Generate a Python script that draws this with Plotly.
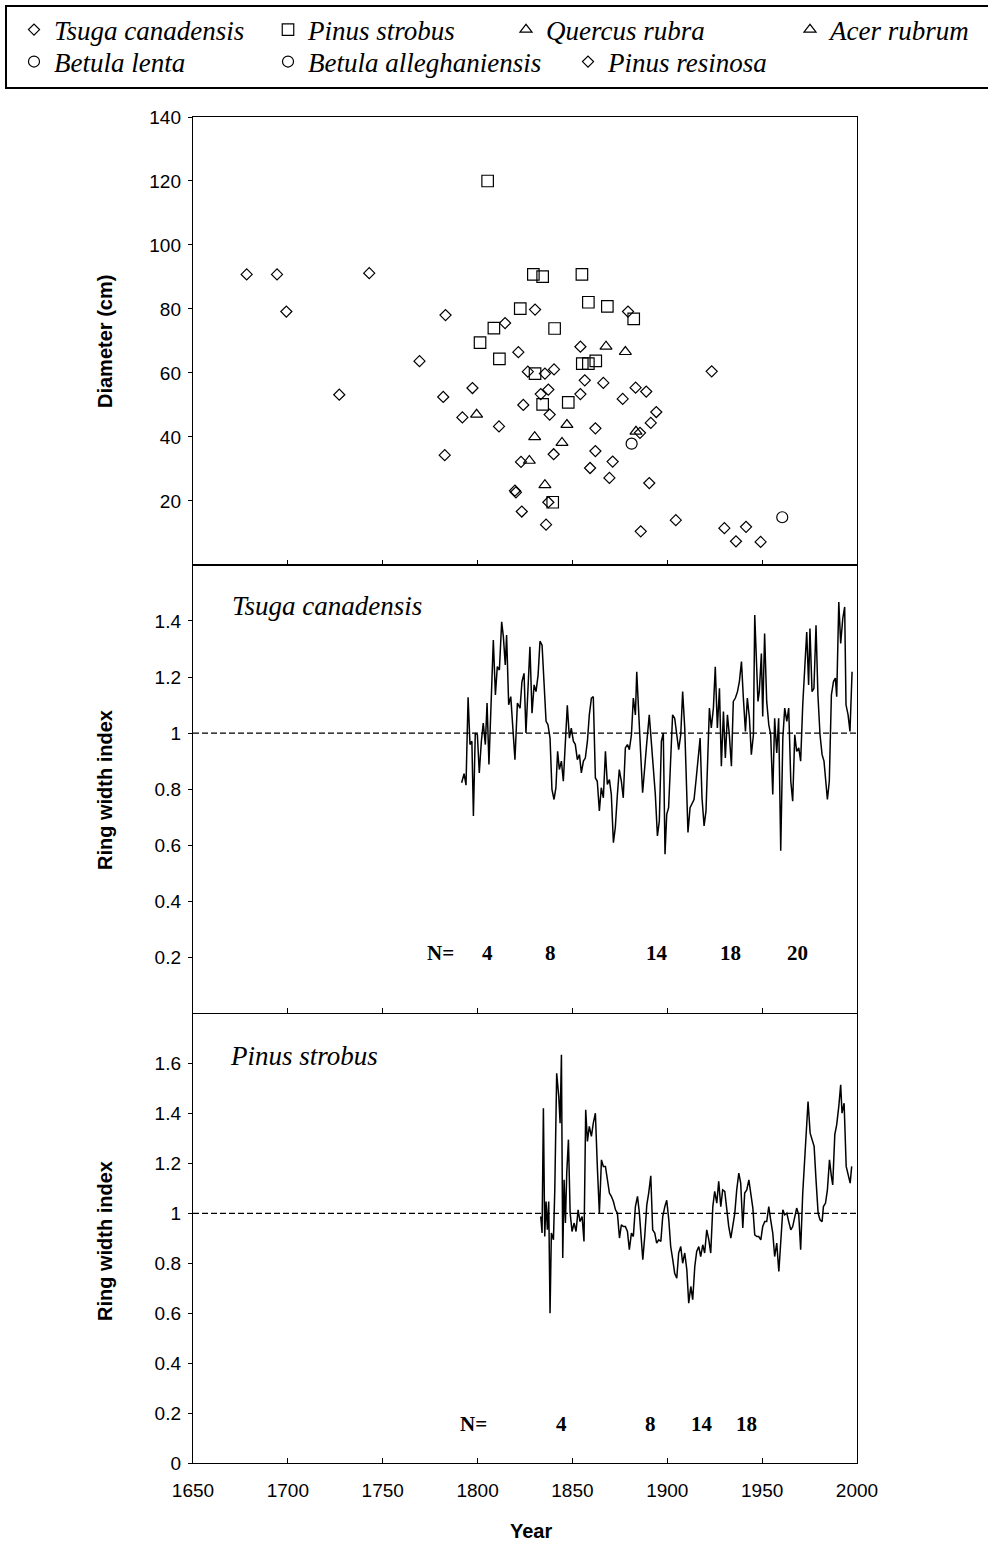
import plotly.graph_objects as go

W, H = 988, 1543

# ---------------------------------------------------------------
# Stem diameter (cm) against establishment year, by species
# ---------------------------------------------------------------
tsuga_year = [1678.3, 1694.3, 1699.2, 1742.9, 1727.1, 1769.4, 1783.1, 1781.9, 1792.0, 1811.3,
              1782.7, 1814.5, 1821.5, 1819.7, 1820.2, 1823.3, 1822.9, 1824.1, 1830.3, 1879.3,
              1854.2, 1826.5, 1835.5, 1840.3, 1856.5, 1866.3, 1883.3, 1888.9, 1876.5, 1854.2,
              1833.3, 1837.3, 1838.0, 1894.2, 1891.3, 1885.6, 1862.1, 1840.1, 1871.2, 1859.3,
              1869.5, 1890.5, 1837.3, 1836.1, 1886.0, 1904.5, 1930.1, 1941.5, 1936.2, 1949.2]
tsuga_diam = [90.8, 90.8, 79.2, 91.2, 53.2, 63.7, 78.1, 52.5, 46.1, 43.3,
              34.3, 75.6, 66.5, 23.2, 22.7, 16.7, 32.2, 50.0, 79.8, 79.2,
              68.2, 60.4, 59.8, 61.1, 57.7, 56.9, 55.4, 54.2, 51.9, 53.4,
              53.4, 54.8, 47.0, 47.8, 44.4, 41.3, 35.6, 34.6, 32.3, 30.3,
              27.2, 25.6, 19.6, 12.6, 10.5, 14.0, 11.5, 11.9, 7.4, 7.2]

strobus_year = [1805.3, 1829.4, 1834.3, 1855.0, 1822.5, 1858.4, 1868.4, 1882.3, 1808.6, 1840.6,
                1801.3, 1811.5, 1830.3, 1855.2, 1858.4, 1862.3, 1847.8, 1834.3, 1839.6]
strobus_diam = [120.0, 90.8, 90.1, 90.8, 80.1, 82.1, 80.8, 76.9, 74.0, 73.9,
                69.5, 64.4, 59.8, 62.9, 62.9, 63.8, 50.8, 50.2, 19.6]

quercus_year = [1799.5, 1867.7, 1847.1, 1830.1, 1827.3, 1835.5]
quercus_diam = [47.0, 68.3, 43.8, 40.0, 32.6, 25.0]

acer_year = [1877.9, 1844.5, 1883.5]
acer_diam = [66.6, 38.2, 41.7]

lenta_year = [1960.6]
lenta_diam = [14.9]

allegh_year = [1881.2]
allegh_diam = [37.9]

resinosa_year = [1797.3, 1862.1, 1923.4]
resinosa_diam = [55.3, 42.7, 60.5]

# ---------------------------------------------------------------
# Ring width index chronologies
# ---------------------------------------------------------------
tsuga_rwi_year = [
    1791.6, 1792.9, 1793.9, 1795.0, 1796.0, 1797.0, 1797.8, 1798.8, 1799.9, 1800.9,
    1802.0, 1803.0, 1804.1, 1805.0, 1806.0, 1807.1, 1808.3, 1809.4, 1810.4, 1811.5,
    1812.7, 1813.6, 1814.6, 1815.3, 1816.4, 1817.5, 1818.5, 1819.7, 1821.0, 1822.4,
    1823.4, 1824.5, 1825.5, 1826.6, 1827.6, 1828.7, 1829.8, 1830.8, 1831.9, 1832.9,
    1834.0, 1835.0, 1836.1, 1837.1, 1838.2, 1839.2, 1840.3, 1841.3, 1842.2, 1843.1,
    1844.2, 1845.2, 1846.3, 1847.3, 1848.4, 1849.4, 1850.5, 1851.5, 1852.6, 1853.7,
    1854.7, 1855.8, 1856.8, 1857.9, 1858.9, 1860.0, 1861.0, 1862.1, 1863.1, 1864.2,
    1865.2, 1866.3, 1867.4, 1868.4, 1869.5, 1870.5, 1871.6, 1872.6, 1873.7, 1874.7,
    1875.8, 1876.8, 1877.9, 1879.0, 1880.0, 1881.1, 1882.1, 1883.2, 1883.9, 1885.0,
    1886.0, 1887.0, 1888.1, 1889.1, 1890.5, 1891.6, 1892.7, 1893.7, 1894.8, 1895.8,
    1896.9, 1897.9, 1898.8, 1899.7, 1900.7, 1901.8, 1902.8, 1903.9, 1904.9, 1906.0,
    1907.1, 1908.1, 1909.2, 1909.9, 1910.9, 1912.0, 1913.0, 1914.1, 1915.1, 1916.2,
    1917.3, 1918.3, 1919.4, 1920.4, 1921.5, 1922.2, 1923.2, 1924.3, 1925.3, 1926.4,
    1927.5, 1928.5, 1929.6, 1930.6, 1931.7, 1932.7, 1933.8, 1934.8, 1935.9, 1937.0,
    1938.0, 1939.1, 1940.1, 1941.2, 1942.2, 1943.3, 1944.3, 1945.4, 1946.1, 1947.1,
    1947.8, 1948.5, 1949.6, 1950.3, 1951.3, 1952.4, 1953.5, 1954.5, 1955.6, 1956.6,
    1957.7, 1958.7, 1959.8, 1960.9, 1961.9, 1963.0, 1964.0, 1965.1, 1966.1, 1967.2,
    1968.2, 1969.3, 1970.3, 1971.4, 1972.4, 1973.5, 1974.5, 1975.2, 1976.3, 1977.3,
    1978.4, 1979.4, 1980.5, 1981.6, 1982.6, 1983.7, 1984.4, 1985.4, 1986.5, 1987.6,
    1988.6, 1989.3, 1990.4, 1991.4, 1992.5, 1993.5, 1994.2, 1995.3, 1996.3, 1997.4]
tsuga_rwi = [
    0.823, 0.855, 0.814, 1.128, 0.959, 0.971, 0.704, 1.000, 0.994, 0.858,
    0.971, 1.036, 0.959, 1.107, 0.888, 1.113, 1.332, 1.136, 1.237, 1.225,
    1.397, 1.344, 1.243, 1.350, 1.101, 1.130, 1.036, 0.905, 1.107, 1.089,
    1.184, 1.213, 1.000, 1.196, 1.308, 1.071, 1.172, 1.148, 1.207, 1.328,
    1.314, 1.184, 1.042, 1.030, 0.982, 0.799, 0.763, 0.805, 0.935, 0.870,
    0.900, 0.828, 0.982, 1.099, 0.982, 1.018, 0.971, 0.960, 0.905, 0.923,
    0.858, 0.900, 0.911, 0.971, 1.065, 1.125, 1.130, 0.840, 0.828, 0.722,
    0.805, 0.769, 0.935, 0.817, 0.834, 0.781, 0.609, 0.663, 0.781, 0.870,
    0.828, 0.769, 0.947, 0.959, 0.941, 0.994, 1.125, 1.065, 1.219, 1.030,
    0.923, 0.787, 0.864, 0.959, 1.065, 0.971, 0.876, 0.781, 0.633, 0.686,
    0.971, 1.000, 0.568, 0.710, 0.734, 0.923, 1.065, 1.053, 0.994, 0.941,
    0.994, 1.148, 1.018, 0.852, 0.645, 0.734, 0.746, 0.763, 0.828, 0.900,
    0.982, 0.769, 0.669, 0.722, 0.911, 1.089, 1.018, 1.089, 1.237, 1.018,
    1.160, 0.882, 1.077, 0.911, 1.065, 0.994, 0.882, 1.113, 1.125, 1.148,
    1.184, 1.255, 1.125, 1.006, 1.125, 1.053, 0.923, 0.994, 1.421, 1.219,
    1.113, 1.148, 1.284, 1.059, 1.355, 1.113, 1.030, 0.994, 0.781, 1.053,
    0.929, 1.053, 0.580, 0.982, 1.089, 1.042, 1.089, 0.828, 0.757, 0.994,
    0.935, 0.947, 0.900, 1.101, 1.207, 1.361, 1.172, 1.373, 1.148, 1.160,
    1.385, 1.136, 0.994, 0.923, 0.900, 0.828, 0.763, 0.828, 1.136, 1.184,
    1.196, 1.130, 1.468, 1.320, 1.409, 1.450, 1.101, 1.065, 1.006, 1.219]

strobus_rwi_year = [
    1833.3, 1834.0, 1834.7, 1835.4, 1836.1, 1836.8, 1837.5, 1838.2, 1838.9, 1840.0,
    1840.7, 1841.7, 1842.8, 1843.5, 1844.2, 1844.9, 1845.6, 1846.3, 1847.0, 1847.9,
    1848.8, 1849.8, 1850.9, 1851.9, 1853.0, 1854.0, 1855.1, 1856.1, 1857.0, 1857.9,
    1858.9, 1860.0, 1861.0, 1862.1, 1863.2, 1864.2, 1865.3, 1866.3, 1867.4, 1868.4,
    1869.5, 1870.5, 1871.6, 1872.7, 1873.7, 1874.8, 1875.8, 1876.9, 1877.9, 1879.0,
    1880.0, 1881.1, 1882.1, 1883.2, 1884.3, 1885.3, 1886.4, 1887.1, 1888.1, 1889.2,
    1890.2, 1891.3, 1892.3, 1893.4, 1894.4, 1895.5, 1896.6, 1897.6, 1898.7, 1899.7,
    1900.8, 1901.8, 1902.9, 1903.9, 1905.0, 1906.0, 1907.1, 1908.1, 1909.2, 1910.3,
    1911.3, 1912.4, 1913.4, 1914.5, 1915.5, 1916.6, 1917.6, 1918.7, 1919.7, 1920.8,
    1921.9, 1922.9, 1924.0, 1925.0, 1926.1, 1927.1, 1928.2, 1929.2, 1930.3, 1931.3,
    1932.4, 1933.5, 1934.5, 1935.6, 1936.6, 1937.7, 1938.7, 1939.8, 1940.8, 1941.9,
    1943.0, 1944.0, 1945.1, 1946.1, 1947.2, 1948.2, 1949.3, 1950.3, 1951.4, 1952.4,
    1953.5, 1954.5, 1955.6, 1956.6, 1957.7, 1958.8, 1959.8, 1960.9, 1961.9, 1963.0,
    1964.0, 1965.1, 1966.1, 1967.2, 1968.2, 1969.3, 1970.3, 1971.4, 1972.5, 1973.5,
    1974.2, 1975.3, 1976.3, 1977.4, 1978.4, 1979.5, 1980.5, 1981.6, 1982.3, 1983.4,
    1984.4, 1985.5, 1986.5, 1987.2, 1988.3, 1989.3, 1990.4, 1991.4, 1992.1, 1993.2,
    1994.3, 1995.3, 1996.4, 1997.2]
strobus_rwi = [
    0.987, 0.921, 1.421, 0.907, 1.047, 0.934, 1.047, 0.600, 0.921, 0.894,
    1.094, 1.561, 1.468, 1.361, 1.635, 0.821, 1.134, 0.961, 1.161, 1.295,
    1.001, 0.927, 0.961, 0.927, 1.014, 0.967, 0.987, 0.887, 1.415, 1.288,
    1.348, 1.308, 1.361, 1.401, 1.174, 1.001, 1.214, 1.188, 1.188, 1.134,
    1.081, 1.068, 1.047, 1.014, 1.001, 0.901, 0.954, 0.947, 0.947, 0.927,
    0.854, 0.921, 0.907, 1.027, 1.068, 1.001, 0.907, 0.814, 0.907, 1.034,
    1.081, 1.150, 0.934, 0.921, 0.881, 0.894, 0.887, 0.987, 1.027, 1.052,
    0.974, 0.867, 0.814, 0.760, 0.740, 0.841, 0.867, 0.800, 0.841, 0.774,
    0.640, 0.707, 0.654, 0.787, 0.847, 0.867, 0.827, 0.874, 0.841, 0.934,
    0.894, 0.841, 1.027, 1.088, 1.041, 1.128, 1.027, 1.094, 1.088, 1.014,
    0.947, 0.901, 0.947, 1.001, 1.094, 1.161, 1.121, 0.941, 1.081, 1.094,
    1.134, 1.088, 1.021, 0.914, 0.907, 0.907, 0.894, 0.947, 0.967, 0.967,
    1.027, 0.974, 0.921, 0.827, 0.881, 0.767, 0.894, 1.014, 0.994, 1.001,
    0.967, 0.934, 0.947, 0.987, 1.021, 0.994, 0.854, 1.081, 1.214, 1.348,
    1.448, 1.321, 1.295, 1.268, 1.134, 1.001, 0.974, 0.967, 1.027, 1.041,
    1.094, 1.214, 1.148, 1.114, 1.315, 1.355, 1.428, 1.515, 1.401, 1.441,
    1.188, 1.161, 1.121, 1.188]

# Sample depth (number of series) and where it is printed
tsuga_depth_year = [1805.1, 1838.2, 1894.6, 1933.1, 1968.4]
tsuga_depth = [4, 8, 14, 18, 20]
strobus_depth_year = [1844.5, 1891.4, 1918.3, 1941.5]
strobus_depth = [4, 8, 14, 18]

year_ticks = [1650, 1700, 1750, 1800, 1850, 1900, 1950, 2000]
diam_ticks = [20, 40, 60, 80, 100, 120, 140]
rwi_ticks_mid = [0.2, 0.4, 0.6, 0.8, 1.0, 1.2, 1.4]
rwi_ticks_low = [0, 0.2, 0.4, 0.6, 0.8, 1.0, 1.2, 1.4, 1.6]

SANS = "Liberation Sans"
SERIF = "Liberation Serif"


def fmt(v):
    return "{:g}".format(v)


fig = go.Figure()

species = [
    ("Tsuga canadensis", tsuga_year, tsuga_diam, "diamond-open", 8.5, "legend"),
    ("Pinus strobus", strobus_year, strobus_diam, "square-open", 11.5, "legend2"),
    ("Quercus rubra", quercus_year, quercus_diam, "triangle-up-open", 10.5, "legend3"),
    ("Acer rubrum", acer_year, acer_diam, "triangle-up-open", 10.5, "legend4"),
    ("Betula lenta", lenta_year, lenta_diam, "circle-open", 11, "legend5"),
    ("Betula alleghaniensis", allegh_year, allegh_diam, "circle-open", 11, "legend6"),
    ("Pinus resinosa", resinosa_year, resinosa_diam, "diamond-open", 8.5, "legend7"),
]
for name, xs, ys, sym, size, leg in species:
    fig.add_trace(go.Scatter(
        x=xs, y=ys, mode="markers", name=name, legend=leg,
        marker=dict(symbol=sym, size=size, color="black", line=dict(color="black", width=1.2)),
        xaxis="x", yaxis="y", hoverinfo="x+y+name",
    ))

fig.add_trace(go.Scatter(x=tsuga_rwi_year, y=tsuga_rwi, mode="lines", showlegend=False,
                         line=dict(color="black", width=1.5), xaxis="x2", yaxis="y2"))
fig.add_trace(go.Scatter(x=strobus_rwi_year, y=strobus_rwi, mode="lines", showlegend=False,
                         line=dict(color="black", width=1.5), xaxis="x3", yaxis="y3"))

# plot area in pixels: x 193..857, y 117..1463
L, R, T, B = 193, 131, 117, 80
PW, PH = W - L - R, H - T - B


def xp(px):
    return (px - L) / PW


def yp(py):
    return (H - B - py) / PH


frame = dict(showgrid=False, zeroline=False, showline=True, linecolor="black", linewidth=1.4,
             mirror=True, tickcolor="black", tickwidth=1.2)
xcommon = dict(frame, range=[1650, 2000], tickvals=year_ticks, ticks="inside", ticklen=5,
               tickfont=dict(family=SANS, size=19, color="black"))
ycommon = dict(frame, ticks="outside", ticklen=4, ticklabelstandoff=3,
               tickfont=dict(family=SANS, size=19, color="black"))

fig.update_layout(
    width=W, height=H,
    margin=dict(l=L, r=R, t=T, b=B, autoexpand=False),
    paper_bgcolor="white", plot_bgcolor="white",
    xaxis=dict(xcommon, anchor="y", showticklabels=False),
    xaxis2=dict(xcommon, anchor="y2", matches="x", showticklabels=False),
    xaxis3=dict(xcommon, anchor="y3", matches="x", showticklabels=True, ticklabelstandoff=10),
    yaxis=dict(ycommon, domain=[0.6672, 1.0], range=[0, 140], tickvals=diam_ticks,
               ticktext=[fmt(v) for v in diam_ticks]),
    yaxis2=dict(ycommon, domain=[0.3341, 0.6672], range=[0, 1.6], tickvals=rwi_ticks_mid,
                ticktext=[fmt(v) for v in rwi_ticks_mid]),
    yaxis3=dict(ycommon, domain=[0.0, 0.3339], range=[0, 1.8], tickvals=rwi_ticks_low,
                ticktext=[fmt(v) for v in rwi_ticks_low]),
    showlegend=True,
)

# one single-entry legend per species name, laid out in the header box
legend_font = dict(family=SERIF, size=27, color="black", style="italic")
legend_pos = {
    "legend": (14, 30), "legend2": (268, 30), "legend3": (506, 30), "legend4": (790, 30),
    "legend5": (14, 62), "legend6": (268, 62), "legend7": (568, 62),
}
for key, (px, py) in legend_pos.items():
    fig.update_layout({key: dict(x=xp(px), y=yp(py), xref="paper", yref="paper",
                                 xanchor="left", yanchor="middle", bgcolor="rgba(0,0,0,0)",
                                 borderwidth=0, font=legend_font, itemwidth=30)})

# header box around the species key
fig.add_shape(type="rect", xref="paper", yref="paper", x0=xp(6), x1=xp(1000), y0=yp(88), y1=yp(6),
              line=dict(color="black", width=2), fillcolor="rgba(0,0,0,0)")

# reference line at index = 1
for ax in ("2", "3"):
    fig.add_shape(type="line", xref="x" + ax + " domain", yref="y" + ax, x0=0, x1=1, y0=1, y1=1,
                  line=dict(color="black", width=1.3, dash="6px,3px"), layer="below")

ann = []
title_font = dict(family=SANS, size=20, color="black", weight="bold")
ann.append(dict(text="Diameter (cm)", x=xp(105), y=yp(342), textangle=-90, font=title_font))
ann.append(dict(text="Ring width index", x=xp(105), y=yp(790), textangle=-90, font=title_font))
ann.append(dict(text="Ring width index", x=xp(105), y=yp(1241), textangle=-90, font=title_font))
ann.append(dict(text="Year", x=xp(531), y=yp(1531), font=title_font))
for a in ann:
    a.update(xref="paper", yref="paper", showarrow=False, xanchor="center", yanchor="middle")
    fig.add_annotation(**a)

panel_font = dict(family=SERIF, size=27, color="black", style="italic")
fig.add_annotation(text="Tsuga canadensis", xref="x2 domain", yref="y2 domain", x=0.0557, y=0.9085,
                   xanchor="left", yanchor="middle", showarrow=False, font=panel_font)
fig.add_annotation(text="Pinus strobus", xref="x3 domain", yref="y3 domain", x=0.053, y=0.905,
                   xanchor="left", yanchor="middle", showarrow=False, font=panel_font)

depth_font = dict(family=SERIF, size=21, color="black", weight="bold")
fig.add_annotation(text="N=", xref="x2", yref="y2 domain", x=1780.2, y=0.1026,
                   showarrow=False, font=depth_font)
for yr, n in zip(tsuga_depth_year, tsuga_depth):
    fig.add_annotation(text=str(n), xref="x2", yref="y2 domain", x=yr, y=0.1026,
                       showarrow=False, font=depth_font)
fig.add_annotation(text="N=", xref="x3", yref="y3 domain", x=1797.6, y=0.0556,
                   showarrow=False, font=depth_font)
for yr, n in zip(strobus_depth_year, strobus_depth):
    fig.add_annotation(text=str(n), xref="x3", yref="y3 domain", x=yr, y=0.0556,
                       showarrow=False, font=depth_font)

fig.write_html("out.html")
